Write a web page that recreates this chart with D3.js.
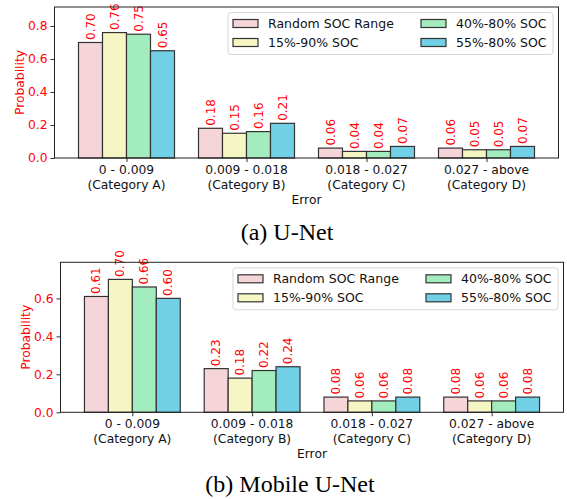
<!DOCTYPE html>
<html>
<head>
<meta charset="utf-8">
<script src="https://cdn.jsdelivr.net/npm/d3@7"></script>
<style>
  body { margin: 0; background: #fff; }
  svg { display: block; }
  text { font-family: "DejaVu Sans", sans-serif; }
</style>
</head>
<body>
<div id="chart-container"></div>
<script>
const categories = ["0 - 0.009|(Category A)", "0.009 - 0.018|(Category B)", "0.018 - 0.027|(Category C)", "0.027 - above|(Category D)"];
const seriesNames = ["Random SOC Range", "15%-90% SOC", "40%-80% SOC", "55%-80% SOC"];
const seriesColors = ["#f5d5d8", "#f6f6c5", "#a3ecbd", "#72d0e6"];

// one row per series, one value per category
const unetValues = [
  [0.70, 0.18, 0.06, 0.06],
  [0.76, 0.15, 0.04, 0.05],
  [0.75, 0.16, 0.04, 0.05],
  [0.65, 0.21, 0.07, 0.07]
];
const mobileValues = [
  [0.61, 0.23, 0.08, 0.08],
  [0.70, 0.18, 0.06, 0.06],
  [0.66, 0.22, 0.06, 0.06],
  [0.60, 0.24, 0.08, 0.08]
];
const unetTicks = [0, 0.2, 0.4, 0.6, 0.8];
const mobileTicks = [0, 0.2, 0.4, 0.6];

const W = 567, H = 499;
const svg = d3.select("#chart-container").append("svg")
    .attr("width", W).attr("height", H);

function drawPanel(values, yTicks, yMax, box, caption) {
    const g = svg.append("g");

    const x = d3.scaleLinear().domain([-0.6, 3.6]).range([box.left, box.right]);
    const y = d3.scaleLinear().domain([0, yMax]).range([box.bottom, box.top]);
    const barW = 0.2;

    const data = [];
    values.forEach(function(row, s) {
        row.forEach(function(v, c) {
            data.push({ s: s, c: c, value: v });
        });
    });

    // bars
    g.selectAll("rect.bar")
      .data(data)
      .enter()
      .append("rect")
        .attr("class", "bar")
        .attr("x", d => x(d.c - 0.4 + d.s * barW))
        .attr("y", d => y(d.value))
        .attr("width", x(barW) - x(0))
        .attr("height", d => y(0) - y(d.value))
        .style("fill", d => seriesColors[d.s])
        .style("stroke", "#333")
        .style("stroke-width", 1.2);

    // value labels
    g.selectAll("text.val")
      .data(data)
      .enter()
      .append("text")
        .attr("class", "val")
        .attr("transform", d => "translate(" + x(d.c - 0.4 + (d.s + 0.5) * barW) + "," + (y(d.value) - 2.5) + ") rotate(-90)")
        .attr("dominant-baseline", "central")
        .style("font-size", "12px")
        .style("fill", "red")
        .text(d => d.value.toFixed(2));

    // y axis
    const yAxis = g.append("g")
        .attr("transform", "translate(" + box.left + ",0)")
        .call(d3.axisLeft(y).tickValues(yTicks).tickFormat(d3.format(".1f")).tickSize(4).tickPadding(3));
    yAxis.select(".domain").remove();
    yAxis.selectAll("text").style("font-size", "12.3px").style("fill", "red").attr("font-family", null);
    yAxis.selectAll("line").style("stroke", "#333");

    // x axis
    const xAxis = g.append("g")
        .attr("transform", "translate(0," + box.bottom + ")")
        .call(d3.axisBottom(x).tickValues(d3.range(categories.length)).tickFormat("").tickSize(4));
    xAxis.select(".domain").remove();
    xAxis.selectAll("line").style("stroke", "#333");

    g.selectAll("text.xlab")
      .data(categories)
      .enter()
      .append("text")
        .attr("class", "xlab")
        .attr("x", (d, i) => x(i))
        .attr("y", box.bottom + 11.5)
        .attr("text-anchor", "middle")
        .style("font-size", "12.3px")
        .style("fill", "#111")
        .each(function(d) {
            const lines = d.split("|");
            d3.select(this).selectAll("tspan")
              .data(lines)
              .enter()
              .append("tspan")
                .attr("x", d3.select(this).attr("x"))
                .attr("dy", (l, j) => j === 0 ? "0.35em" : "15px")
                .text(l => l);
        });

    g.append("text")
        .attr("x", (box.left + box.right) / 2)
        .attr("y", box.bottom + 41.5)
        .attr("dy", "0.35em")
        .attr("text-anchor", "middle")
        .style("font-size", "12.3px")
        .style("fill", "#111")
        .text("Error");

    g.append("text")
        .attr("transform", "translate(" + (box.left - 35) + "," + ((box.top + box.bottom) / 2) + ") rotate(-90)")
        .attr("text-anchor", "middle")
        .attr("dominant-baseline", "central")
        .style("font-size", "12.3px")
        .style("fill", "red")
        .text("Probability");

    // frame
    g.append("rect")
        .attr("x", box.left).attr("y", box.top)
        .attr("width", box.right - box.left).attr("height", box.bottom - box.top)
        .style("fill", "none").style("stroke", "#222").style("stroke-width", 1);

    // legend
    const lx = box.right - 5.5 - 325, ly = box.top + 5.5;
    const legend = g.append("g").attr("transform", "translate(" + lx + "," + ly + ")");
    legend.append("rect")
        .attr("width", 325).attr("height", 42).attr("rx", 3)
        .style("fill", "white").style("fill-opacity", 0.85)
        .style("stroke", "#d6d6d6").style("stroke-width", 1);
    const items = legend.selectAll("g.item")
      .data(seriesNames)
      .enter()
      .append("g")
        .attr("class", "item")
        .attr("transform", (d, i) => "translate(" + (i < 2 ? 5 : 193) + "," + (11 + (i % 2) * 19) + ")");
    items.append("rect")
        .attr("x", 0).attr("y", -4)
        .attr("width", 25).attr("height", 8)
        .style("fill", (d, i) => seriesColors[i])
        .style("stroke", "#333").style("stroke-width", 1.2);
    items.append("text")
        .attr("x", 35)
        .attr("dy", "0.35em")
        .style("font-size", "12.5px")
        .style("fill", "#111")
        .text(d => d);

    // caption
    svg.append("text")
        .attr("x", caption.x)
        .attr("y", caption.y)
        .attr("text-anchor", "middle")
        .style("font-family", "'Liberation Serif', 'Times New Roman', serif")
        .style("font-size", "24px")
        .style("fill", "#000")
        .text(caption.text);
}

drawPanel(unetValues, unetTicks, 0.915,
    { left: 54.5, right: 558.5, top: 7, bottom: 158 },
    { x: 287, y: 240, text: "(a) U-Net" });
drawPanel(mobileValues, mobileTicks, 0.79,
    { left: 60.5, right: 563.5, top: 262.3, bottom: 412.3 },
    { x: 290, y: 491.5, text: "(b) Mobile U-Net" });
</script>
</body>
</html>
